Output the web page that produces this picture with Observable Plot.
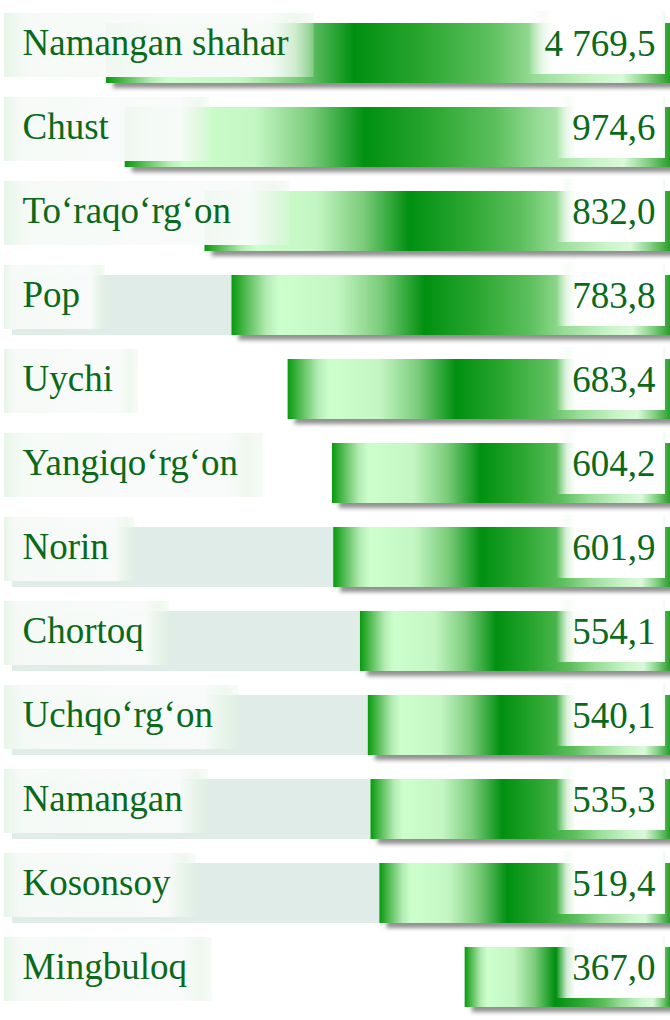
<!DOCTYPE html>
<html><head><meta charset="utf-8">
<script src="https://cdn.jsdelivr.net/npm/d3@7"></script>
<script src="https://cdn.jsdelivr.net/npm/@observablehq/plot@0.6"></script>
<style>
body{margin:0;background:#fff;}
svg text{font-family:"Liberation Serif","Times New Roman","DejaVu Serif",serif !important;}
</style>
</head><body><div id="chart"></div>
<script>
const districts = ["Namangan shahar","Chust","To‘raqo‘rg‘on","Pop","Uychi","Yangiqo‘rg‘on","Norin","Chortoq","Uchqo‘rg‘on","Namangan","Kosonsoy","Mingbuloq"];
const values = [4769.5, 974.6, 832.0, 783.8, 683.4, 604.2, 601.9, 554.1, 540.1, 535.3, 519.4, 367.0];
const trackRows = ["Pop","Norin","Chortoq","Uchqo‘rg‘on","Namangan","Kosonsoy"];

const data = districts.map((name, i) => ({name, value: values[i]}));
const tracks = data.filter(d => trackRows.includes(d.name));
const fmt = d3.formatLocale({decimal: ",", thousands: " ", grouping: [3], currency: ["", ""]}).format(",.1f");
const xMax = 1008;
const green = "#0a6a1a";

const plot = Plot.plot({
  width: 670, height: 1020,
  marginTop: 11, marginBottom: 0, marginLeft: 0, marginRight: 0,
  style: {background: "#fff"},
  x: {domain: [0, xMax], range: [670, 106], clamp: true, axis: null},
  y: {domain: districts, paddingInner: 0.28, paddingOuter: 0.1, axis: null},
  marks: [
    Plot.barX(tracks, {y: "name", x1: "value", x2: xMax, insetLeft: -94, fill: "#e0ece8"}),
    Plot.barX(data, {y: "name", x1: "value", x2: 0, fill: "#555", dx: 7, dy: 5}),
    Plot.barX(data, {y: "name", x1: "value", x2: 0, fill: "url(#barGrad)"}),
    Plot.text(data, {y: "name", text: "name", frameAnchor: "left", dx: 22, dy: -10, textAnchor: "start", fontSize: 37, fill: green}),
    Plot.text(data, {y: "name", text: d => fmt(d.value), frameAnchor: "right", dx: -15, dy: -9, textAnchor: "end", fontSize: 37, fill: green})
  ]
});
document.getElementById("chart").append(plot);

const svg = d3.select(plot);
const defs = svg.insert("defs", ":first-child");
function grad(id, stops) {
  const g = defs.append("linearGradient").attr("id", id).attr("x1", 0).attr("x2", 1).attr("y1", 0).attr("y2", 0);
  stops.forEach(([o, c, a]) => g.append("stop").attr("offset", o).attr("stop-color", c).attr("stop-opacity", a == null ? 1 : a));
}
grad("barGrad", [
  [0, "#069a0e"], [0.03, "#4cb84c"], [0.08, "#b4ecb4"], [0.11, "#ccffcc"], [0.24, "#c4f6c4"],
  [0.34, "#7ccc7c"], [0.44, "#009010"], [0.56, "#2aa630"], [0.68, "#5cbf5c"], [0.76, "#98dc98"],
  [0.86, "#c8f4c8"], [0.915, "#daf9da"], [0.955, "#8cd48c"], [1, "#2a9e2a"]
]);
grad("labelBox", [
  [0, "#e2f4e2", 0.85], [0.04, "#eef8ef", 0.95], [0.09, "#f6faf7", 0.97], [0.86, "#f8fbf9", 0.97],
  [0.94, "#eaf6ea", 0.75], [1, "#e2f4e2", 0.3]
]);
grad("valBox", [
  [0, "#ffffff", 0], [0.1, "#f4fbf4", 0.85], [0.18, "#ffffff", 1], [0.97, "#ffffff", 1], [1, "#eef8ee", 1]
]);
const f = defs.append("filter").attr("id", "blur").attr("x", "-5%").attr("y", "-30%").attr("width", "110%").attr("height", "160%");
f.append("feGaussianBlur").attr("stdDeviation", 2.2);

const barGroups = svg.selectAll('g[aria-label="bar"]').nodes();
const textGroups = svg.selectAll('g[aria-label="text"]').nodes();
d3.select(barGroups[1]).attr("filter", "url(#blur)").attr("opacity", 0.65);

const xs = plot.scale("x");
const ys = plot.scale("y");
const bw = ys.bandwidth;
const svgRect = plot.getBoundingClientRect();

const lb = d3.select(plot.insertBefore(document.createElementNS("http://www.w3.org/2000/svg", "g"), textGroups[0]));
d3.select(textGroups[0]).selectAll("text").each(function (d, i) {
  const r = this.getBoundingClientRect();
  const textEnd = r.right - svgRect.left;
  const barLeft = xs.apply(Math.min(values[i], xMax));
  let right = textEnd + 25;
  if (barLeft < textEnd + 30 && barLeft > textEnd - 40) right = Math.max(right, barLeft + 85);
  lb.append("rect").attr("x", 4).attr("width", right - 4)
    .attr("y", ys.apply(districts[i]) - 10).attr("height", bw + 4)
    .attr("fill", "url(#labelBox)");
});
const vb = d3.select(plot.insertBefore(document.createElementNS("http://www.w3.org/2000/svg", "g"), textGroups[1]));
d3.select(textGroups[1]).selectAll("text").each(function (d, i) {
  const r = this.getBoundingClientRect();
  const left = r.left - svgRect.left - 16;
  vb.append("rect").attr("x", left).attr("width", 665 - left)
    .attr("y", ys.apply(districts[i]) - 12).attr("height", bw + 3)
    .attr("fill", "url(#valBox)");
});
</script>
</body></html>
